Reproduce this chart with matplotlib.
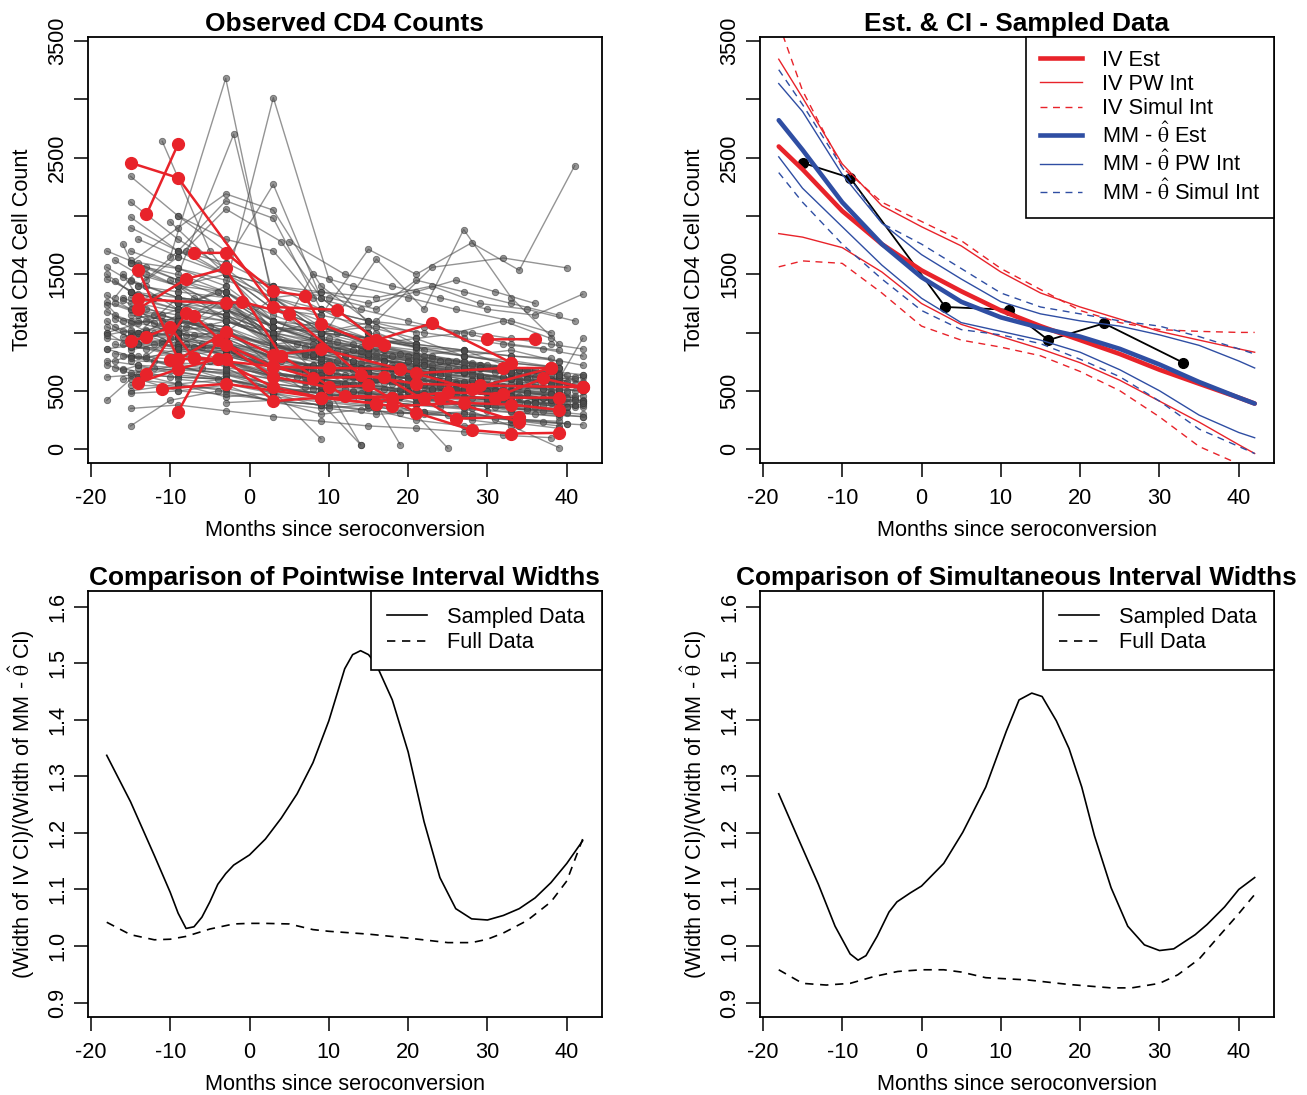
import matplotlib
matplotlib.use('Agg')
import matplotlib.pyplot as plt
from matplotlib.lines import Line2D

plt.rcParams['font.family'] = ['Liberation Sans', 'DejaVu Sans']
plt.rcParams['mathtext.fontset'] = 'stix'
plt.rcParams['axes.unicode_minus'] = False

############## Data ##############

# observed CD4 trajectories (months since seroconversion, cell count)
gray_months = [
    [-18, -13, -8, -3, 3, 10, 16, 22, 29, 35, 41],
    [-18, -14, -9, -3, 3, 8, 14, 19, 25],
    [-18, -15, -9, -3, 3, 8, 14, 20, 26, 32, 38],
    [-18, -13, -9, -3, 3, 9, 16, 22, 28, 34, 40],
    [-18, -15, -9, -3, 3, 11, 17, 23, 30, 36],
    [-18, -12, -6, -3, 3, 9, 15, 21, 27, 33, 39],
    [-18, -15, -9, -3, 3, 7, 13, 19, 24, 31, 37, 42],
    [-18, -14, -9, -3, 3, 10],
    [-18, -16, -10, -3, 3, 9, 15, 21, 28],
    [-18, -15, -9, -3, 3, 10, 16, 22, 28, 34, 40],
    [-17, -14, -9, -3, 3, 9, 15, 21, 27, 33, 39],
    [-17, -11, -5, 3, 12, 18, 24, 30, 36],
    [-17, -15, -9, -3, 3, 9, 15, 20, 26, 32, 38],
    [-17, -13, -9, -3, 3, 9, 15, 22, 28, 34, 40],
    [-16, -15, -9, -3, 3, 9, 15, 21, 27, 33, 39],
    [-16, -10, -3, 3, 8, 14, 20, 26, 32, 38],
    [-16, -12, -6, 3, 9, 15, 21, 27, 33, 39, 42],
    [-15, -9, -3, 3, 9, 15, 21, 27, 33, 39],
    [-15, -9, -3, 3, 9, 15, 21],
    [-15, -9, -3, 3, 11, 17, 23, 29, 35],
    [-15, -9, -3, 3, 9, 15, 21, 27, 33, 39],
    [-15, -9, -3, 3, 9, 14, 20, 26, 32, 38],
    [-15, -9, -3, 3, 10, 16, 22, 28, 34, 40],
    [-15, -9, -3, 3, 8, 13, 19, 25, 31, 37],
    [-15, -9, -3, 3, 9, 15, 21, 27, 33, 39],
    [-15, -9, -3, 3, 10, 17, 23, 29, 35, 41],
    [-15, -9, -3, 3, 9, 15, 21, 27, 33, 39, 42],
    [-15, -9, -3, 3, 7, 12, 18, 24, 30, 36],
    [-15, -9, -3, 3, 9, 15, 21, 27, 33, 39],
    [-15, -9, -3, 3, 10, 16, 22, 28, 34, 40],
    [-15, -10, -4, 3, 9],
    [-14, -9, -3, 3, 9, 15, 21, 27, 33, 39],
    [-14, -9, -3, 3, 11, 17, 23, 29, 35, 41],
    [-14, -8, -3, 3, 9, 15, 21, 27, 33, 39],
    [-14, -9, -3, 3, 8, 14, 20, 26, 32, 38],
    [-14, -9, -3, 3, 9, 15, 21, 27, 33, 39],
    [-13, -9, -3, 3, 10, 16, 22, 28, 34, 40],
    [-13, -7, -3, 3, 9, 15, 21, 27, 33],
    [-12, -9, -3, 3, 9, 15, 21, 27, 33, 39],
    [-11, -5, 3, 9, 14],
    [-10, -3, 3, 9, 15, 21],
    [-9, -3, 3, 10, 16, 22],
    [-9, -2, 3, 9, 15, 21, 27],
    [-9, -3, 3, 9, 15],
    [-15, -9, -3, 3, 9, 15, 21],
    [-14, -9, -3, 3, 9, 15],
    [-13, -9, -3, 4, 9, 15, 21],
    [-3, 3, 9, 16, 22, 27, 33, 39],
    [3, 9, 15, 21, 28, 34, 41],
    [-3, 3, 9, 16, 23, 32, 40],
    [-9, -3, 3, 9, 14],
    [3, 9, 15, 19],
    [9, 15, 21, 25],
    [21, 27, 33, 39],
    [-3, 3, 9],
    [-9, -3, 3, 8, 13, 20, 26, 33, 38],
    [-3, 3, 10, 16, 21, 27, 33, 39],
    [3, 9, 15, 21, 26, 31, 36],
    [5, 12, 18, 24, 30, 36, 42],
    [-9, -3, 3, 9, 15, 21, 27, 33, 39, 42],
    [-18, -14, -9, -3, 3, 9, 15, 21, 27, 33, 39],
    [-17, -15, -9, -3, 3, 9, 15],
    [-16, -14, -9, -4, 3, 9, 15, 21, 27],
    [-15, -9, -3, 3, 9, 15, 21, 27, 33, 39],
    [-14, -9, -3, 3, 9, 15, 21, 27, 33, 39, 42],
    [-15, -9, -3, 3, 8, 14, 20, 26, 32, 38],
    [-14, -9, -3, 3, 10, 16, 22, 28, 34, 40],
    [-9, -3, 3, 9, 15, 21, 27, 33, 39],
    [-15, -9, -3, 3, 11, 17, 23, 29, 35, 41],
    [-16, -9, -3, 3, 9, 15, 21, 27, 33, 39, 42],
    [-13, -9, -3, 3, 9, 15, 21, 27, 33],
    [-18, -14, -9, -3, 3, 9, 15, 21, 27, 33, 39],
    [-15, -9, -3, 3, 7, 13, 19, 25, 31, 37],
    [-9, -3, 3, 9, 15, 21, 27, 33, 39, 42],
    [-3, 3, 9, 15, 21, 27, 33, 39, 42],
    [-15, -9, -3, 3, 9, 15, 21, 27, 33, 38],
    [-14, -9, -3, 3, 9, 15, 21, 27, 33, 39],
    [-9, -3, 3, 8, 14, 20, 26, 32, 38],
    [-10, -3, 3, 9, 15, 21],
    [-8, -3, 3, 9, 16, 23, 29, 35, 41],
    [-14, -9, -3, 3, 9, 15, 21, 27, 33, 39],
    [-15, -9, -3, 3, 10, 16, 22, 28, 34],
    [-3, 3, 9, 15, 21, 27, 33, 39],
    [-12, -3, 3, 9, 15, 21, 27, 33, 39, 42],
    [-18, -13, -9, -3, 3, 9, 15, 21, 27, 33, 39],
    [-17, -14, -9, -3, 3, 9, 15, 21, 27],
    [-15, -9, -3, 3, 9, 15, 21, 27, 33, 39],
    [-14, -9, -3, 3, 8, 14, 20, 26, 32, 38],
    [-16, -9, -3, 3, 9, 15, 21, 27, 33, 39],
    [-18, -15, -9, -3, 3, 12, 18, 24, 30, 36, 42],
    [-17, -14, -9, -3, 3, 10, 17, 24, 31, 38],
    [-16, -13, -9, -3, 3, 11, 19, 27, 35, 42],
    [-18, -16, -12, -8, -3, 3, 9, 14, 20, 25, 31, 37, 42],
    [-17, -14, -10, -6, -2, 4, 10, 15, 21, 26, 32, 38],
    [-18, -15, -11, -7, -3, 3, 8, 13, 19, 25, 31, 37, 42],
    [-17, -13, -9, -5, -3, 3, 9, 15, 20, 26, 31, 36, 41],
    [-16, -14, -9, -4, -3, 3, 8, 14, 19, 24, 30, 35, 40],
    [-15, -14, -9, -3, 3, 7, 12, 17, 23, 28, 33, 38, 42],
    [-14, -12, -9, -3, 3, 9, 13, 18, 23, 29, 34, 39],
    [-16, -15, -9, -3, 3, 10, 14, 19, 24, 29, 34, 39, 42],
    [-18, -15, -9, -3, 3, 7, 11, 17, 23, 28, 33, 39],
    [-18, -14, -9, -3, 3, 6, 12, 17, 22, 27, 32, 37, 41],
    [-17, -15, -9, -3, 3, 9, 13, 19, 24, 30, 35, 40],
    [-15, -9, -3, 3, 8, 12, 18, 23, 28, 34, 40],
    [-14, -9, -3, 3, 8, 13, 18, 24, 29, 35, 41],
    [-15, -9, -3, 3, 7, 13, 19, 25, 30, 36, 41],
    [-14, -9, -3, 3, 9, 13, 18, 24, 30, 36, 42],
    [-15, -9, -3, 3, 9, 14, 19, 25, 31, 37, 42],
    [-13, -9, -3, 3, 6, 11, 17, 22, 28, 33, 38],
    [-12, -9, -3, 3, 9, 14, 19, 24, 29, 34, 39, 42],
    [-11, -9, -3, 3, 10, 15, 20, 25, 30, 35, 40],
    [-10, -3, 3, 8, 14, 19, 25, 30, 36, 42],
    [-9, -3, 3, 9, 13, 18, 23, 28, 33, 38, 42],
    [-8, -3, 3, 7, 12, 17, 22, 27, 32, 37, 41],
    [-7, -3, 3, 9, 14, 20, 25, 31, 36, 40],
    [-18, -16, -13, -9, -3, 3, 9, 15, 20, 26, 32],
    [-17, -15, -12, -9, -3, 3, 9, 15, 21, 27, 33, 39],
    [-16, -14, -11, -9, -3, 3, 8, 13, 18, 23, 29, 35, 41],
    [-3, 3, 8, 13, 18, 24, 29, 34, 39],
    [-3, 3, 7, 12, 18, 23, 28, 33, 38, 42],
    [3, 8, 12, 17, 22, 27, 32, 37, 42],
    [3, 9, 14, 20, 25, 30, 35, 40],
    [-15, -9, -3, 3, 9, 15, 22, 28, 33, 38, 42],
    [-14, -9, -3, 3, 9, 16, 22, 27, 32, 37, 42],
    [-15, -9, -3, 3, 9, 15, 21, 27, 32, 38],
    [-9, -3, 3, 9, 15, 21, 27, 33, 39],
    [-18, -15, -9, -3, 3, 9, 15, 21, 27, 33, 39, 42],
]
gray_cd4 = [
    [1700, 1560, 1480, 1350, 1050, 900, 820, 760, 700, 640, 600],
    [1460, 1330, 1250, 1150, 880, 800, 740, 690, 620],
    [1260, 1190, 1120, 1000, 780, 720, 660, 610, 560, 510, 470],
    [1180, 1010, 1150, 920, 720, 640, 590, 530, 490, 440, 400],
    [1050, 960, 910, 840, 690, 640, 570, 510, 470, 430],
    [950, 900, 880, 860, 660, 600, 530, 480, 430, 390, 350],
    [860, 800, 770, 750, 600, 530, 490, 450, 400, 360, 330, 300],
    [760, 720, 700, 640, 520, 470],
    [720, 690, 620, 600, 520, 480, 420, 380, 350],
    [420, 600, 560, 500, 410, 380, 330, 300, 280, 250, 220],
    [1620, 1500, 1400, 1220, 1050, 920, 860, 800, 720, 680, 640],
    [1250, 1100, 1060, 880, 780, 700, 650, 600, 560],
    [1050, 1000, 960, 900, 780, 700, 660, 610, 580, 540, 500],
    [900, 860, 800, 760, 620, 560, 520, 470, 440, 400, 360],
    [1760, 1620, 1450, 1350, 1150, 1000, 950, 880, 800, 740, 700],
    [1010, 950, 880, 700, 640, 600, 540, 500, 460, 420],
    [800, 760, 700, 600, 560, 520, 480, 440, 420, 380, 360],
    [2340, 2000, 1700, 1300, 1050, 900, 820, 760, 700, 650],
    [2120, 1800, 1550, 1250, 1100, 950, 880],
    [1990, 1700, 1500, 1200, 1000, 880, 800, 720, 680],
    [1700, 1550, 1400, 1100, 950, 850, 780, 700, 640, 600],
    [1600, 1450, 1300, 1050, 900, 820, 760, 680, 620, 580],
    [1440, 1300, 1250, 980, 860, 780, 720, 650, 600, 560],
    [1300, 1200, 1150, 900, 800, 720, 660, 600, 560, 520],
    [1150, 1100, 1050, 850, 760, 700, 640, 580, 520, 480],
    [1000, 980, 950, 780, 700, 640, 580, 540, 480, 440],
    [880, 860, 840, 700, 640, 580, 540, 500, 460, 420, 400],
    [760, 740, 720, 620, 580, 520, 480, 440, 400, 360],
    [640, 620, 600, 520, 480, 440, 400, 360, 320, 280],
    [550, 540, 520, 450, 400, 360, 320, 300, 260, 220],
    [200, 420, 500, 420, 380],
    [1800, 1650, 1500, 1200, 1050, 950, 870, 800, 740, 700],
    [1400, 1350, 1300, 1050, 920, 850, 780, 720, 660, 620],
    [1100, 1050, 1000, 820, 740, 680, 620, 560, 500, 460],
    [900, 880, 860, 720, 650, 590, 540, 500, 460, 420],
    [700, 680, 660, 560, 520, 480, 430, 400, 370, 340],
    [1500, 1400, 1350, 1100, 950, 880, 800, 740, 680, 640],
    [1000, 980, 950, 780, 700, 640, 600, 540, 500],
    [1300, 1250, 1200, 950, 850, 780, 720, 660, 600, 560],
    [2640, 1700, 1000, 620, 40],
    [1650, 3180, 1250, 900, 800, 700],
    [1200, 1400, 3015, 1460, 1000, 850],
    [1500, 2700, 1300, 1000, 850, 780, 700],
    [1350, 1600, 2270, 1300, 1000],
    [1600, 1900, 2190, 2050, 1400, 1100, 900],
    [1400, 1700, 2130, 1980, 1200, 1000],
    [1450, 1650, 2060, 1780, 1300, 1000, 900],
    [1300, 1100, 950, 1630, 1200, 1884, 1300, 900],
    [1200, 1150, 1714, 1500, 1770, 1535, 2432],
    [1200, 1050, 1000, 1100, 1560, 1640, 1555],
    [900, 800, 700, 400, 40],
    [800, 650, 500, 40],
    [600, 500, 300, 10],
    [500, 350, 200, 15],
    [700, 500, 90],
    [1100, 1050, 900, 1500, 1400, 1300, 1200, 1100, 1000],
    [1500, 1400, 1300, 1200, 1450, 1350, 1250, 1150],
    [1300, 1350, 1250, 1350, 1450, 1350, 1250],
    [1780, 1500, 1400, 1300, 1200, 1150, 1330],
    [1000, 1100, 950, 850, 780, 720, 650, 700, 600, 950],
    [620, 640, 560, 600, 480, 500, 420, 440, 380, 350, 300],
    [700, 650, 720, 600, 520, 450, 480],
    [1500, 1300, 1200, 1350, 900, 800, 850, 700, 650],
    [1250, 1400, 1100, 1000, 1100, 900, 850, 800, 850, 750],
    [1000, 1100, 900, 800, 850, 700, 720, 650, 600, 580, 620],
    [850, 950, 800, 750, 650, 700, 600, 550, 500, 540],
    [1200, 900, 1050, 700, 750, 600, 640, 520, 560, 480],
    [800, 850, 650, 600, 550, 500, 520, 450, 420],
    [1100, 1000, 1200, 900, 700, 760, 650, 600, 620, 500],
    [1300, 1100, 1300, 950, 900, 800, 700, 750, 650, 600, 640],
    [800, 1000, 900, 700, 640, 580, 620, 500, 480],
    [1100, 900, 950, 850, 700, 720, 600, 550, 580, 450, 420],
    [1450, 1200, 1150, 1000, 800, 900, 700, 650, 700, 600],
    [1300, 1150, 1000, 1050, 900, 800, 850, 700, 650, 560],
    [900, 700, 600, 650, 550, 500, 450, 480, 410],
    [1350, 1250, 1350, 1100, 1000, 950, 900, 850, 800, 780],
    [1000, 1300, 1250, 1200, 1000, 1050, 950, 1000, 900, 850],
    [2000, 1800, 1700, 1300, 1200, 1100, 1000, 1100, 950],
    [1950, 1500, 1300, 1200, 1100, 1000],
    [1700, 1500, 1400, 1350, 1300, 1400, 1250, 1200, 1100],
    [600, 500, 550, 400, 350, 380, 300, 320, 250, 200],
    [500, 560, 450, 480, 350, 300, 320, 250, 200],
    [400, 420, 300, 350, 250, 200, 230, 180],
    [700, 600, 500, 520, 420, 380, 400, 330, 300, 280],
    [1000, 1100, 1000, 1300, 900, 950, 800, 750, 700, 650, 600],
    [1300, 1550, 1400, 1500, 1100, 1050, 950, 900, 850],
    [900, 1100, 1000, 1300, 1000, 900, 950, 800, 760, 700],
    [800, 700, 750, 620, 560, 600, 480, 520, 430, 400],
    [600, 700, 650, 550, 450, 500, 400, 380, 350, 330],
    [1000, 880, 830, 900, 600, 560, 620, 480, 500, 420, 460],
    [1150, 1080, 1200, 1000, 760, 700, 680, 560, 520, 480],
    [960, 1020, 880, 760, 640, 560, 500, 440, 400, 380],
    [1240, 1100, 1150, 980, 1000, 820, 760, 700, 640, 600, 560, 520, 500],
    [1120, 1000, 1050, 900, 850, 760, 680, 660, 600, 560, 500, 470],
    [980, 1020, 930, 880, 900, 720, 680, 620, 580, 520, 500, 440, 420],
    [820, 780, 860, 760, 700, 640, 600, 560, 500, 470, 430, 400, 380],
    [680, 720, 640, 600, 640, 560, 520, 480, 450, 420, 380, 350, 320],
    [1350, 1250, 1180, 1100, 950, 880, 820, 760, 720, 680, 640, 600, 580],
    [1150, 1080, 1020, 960, 860, 800, 720, 700, 660, 620, 560, 540],
    [900, 960, 880, 820, 700, 660, 600, 560, 540, 500, 460, 430, 410],
    [1320, 1200, 1060, 980, 900, 820, 760, 700, 650, 590, 560, 500],
    [860, 900, 800, 760, 640, 620, 560, 520, 480, 460, 420, 380, 360],
    [760, 800, 700, 680, 600, 540, 500, 460, 420, 380, 340, 310],
    [1080, 1120, 980, 880, 800, 720, 680, 640, 590, 540, 500],
    [960, 1000, 920, 800, 720, 680, 620, 580, 540, 500, 460],
    [780, 820, 760, 660, 620, 560, 520, 480, 440, 400, 380],
    [620, 660, 600, 540, 480, 440, 400, 360, 330, 300, 280],
    [480, 500, 470, 420, 380, 340, 310, 290, 260, 230, 210],
    [1200, 1150, 1100, 1000, 900, 840, 800, 760, 720, 680, 640],
    [1000, 950, 900, 850, 780, 700, 660, 640, 620, 580, 520, 500],
    [900, 860, 820, 720, 660, 600, 560, 540, 500, 480, 440],
    [1450, 1200, 1050, 950, 880, 820, 760, 720, 680, 640],
    [1100, 1000, 900, 820, 760, 700, 680, 640, 600, 560, 540],
    [900, 860, 760, 700, 640, 600, 560, 520, 480, 440, 420],
    [1300, 1200, 1000, 900, 840, 760, 700, 660, 620, 580],
    [1560, 1480, 1400, 1300, 1200, 1000, 920, 860, 800, 760, 700],
    [1440, 1350, 1300, 1250, 1120, 950, 880, 820, 760, 700, 660, 620],
    [1280, 1200, 1150, 1100, 1000, 880, 820, 760, 720, 680, 640, 600, 560],
    [1100, 950, 900, 850, 800, 760, 700, 680, 640],
    [800, 700, 660, 620, 560, 520, 500, 460, 420, 400],
    [900, 860, 800, 760, 720, 660, 620, 580, 540],
    [650, 600, 560, 500, 470, 420, 400, 360],
    [1900, 1700, 1600, 1400, 1200, 1100, 1050, 1000, 950, 900, 860],
    [1600, 1550, 1450, 1300, 1150, 1050, 1000, 950, 900, 860, 800],
    [350, 380, 330, 280, 240, 200, 180, 150, 120, 100],
    [600, 560, 480, 420, 380, 340, 300, 260, 240],
    [1500, 1350, 1300, 1250, 1050, 1000, 950, 880, 840, 800, 760, 720],
]

# highlighted (sampled) subjects
red_months = [
    [-15, -9, 3, 11, 16, 23, 33],
    [-13, -9],
    [-7, -3, 3, 7, 9, 15, 17],
    [-14, -9, -3, 3, 9, 19, 28, 38],
    [-14, -3, -1, 5, 14, 21, 29, 42],
    [-14, -8, -3, 4, 12, 22, 31, 39],
    [-15, -13, -10, -7, 3, 8, 17, 26, 34],
    [-13, -8, -7, -3, 3, 10, 15, 21, 28, 33, 39],
    [-14, -9, -4, 3, 9, 18, 25, 32, 37, 42],
    [-11, -3, 9, 16, 18, 27, 33, 39],
    [-9, -4, 3, 10, 19, 21, 32, 38],
    [-10, -7, -3, 3, 9, 16, 18, 24, 34],
    [30, 36],
]
red_cd4 = [
    [2456, 2327, 1220, 1196, 936, 1080, 742],
    [2013, 2617],
    [1684, 1684, 1355, 1316, 1077, 912, 897],
    [1535, 772, 1002, 808, 861, 688, 517, 697],
    [1286, 1250, 1265, 1160, 637, 562, 547, 532],
    [1205, 1460, 1550, 802, 458, 443, 443, 443],
    [927, 966, 1047, 780, 712, 613, 622, 263, 278],
    [643, 1167, 1146, 891, 622, 532, 547, 314, 165, 135, 141],
    [571, 688, 775, 532, 443, 443, 488, 473, 607, 532],
    [517, 562, 443, 392, 368, 398, 383, 338],
    [323, 936, 706, 697, 688, 652, 697, 697],
    [766, 780, 775, 413, 443, 392, 443, 443, 233],
    [942, 945],
]

# single sampled subject shown with the fits
sample_months = [-15, -9, 3, 11, 16, 23, 33]
sample_cd4 = [2456, 2327, 1220, 1196, 936, 1080, 742]

# fitted curves and bands
fit_months = [-18, -15, -10, -5, 0, 5, 10, 15, 20, 25, 30, 35, 40, 42]
iv_est = [2596, 2400, 2043, 1759, 1534, 1355, 1190, 1056, 936, 817, 682, 562, 443, 392]
iv_pw_hi = [3344, 3015, 2447, 2088, 1908, 1744, 1520, 1340, 1220, 1116, 1011, 936, 861, 832]
iv_pw_lo = [1849, 1819, 1729, 1520, 1250, 1071, 966, 861, 742, 592, 413, 233, 39, -36]
iv_sim_hi = [3650, 3075, 2417, 2118, 1953, 1789, 1550, 1370, 1190, 1086, 1026, 1011, 1002, 1002]
iv_sim_lo = [1564, 1615, 1594, 1340, 1056, 936, 876, 802, 667, 502, 278, 24, -126, -250]
mm_est = [2821, 2567, 2118, 1759, 1475, 1265, 1131, 1041, 966, 861, 727, 577, 443, 392]
mm_pw_hi = [3135, 2896, 2357, 1938, 1669, 1460, 1265, 1161, 1101, 1056, 981, 891, 757, 697]
mm_pw_lo = [2507, 2238, 1908, 1579, 1295, 1086, 1011, 936, 832, 682, 502, 293, 144, 99]
mm_sim_hi = [3254, 2955, 2417, 1938, 1759, 1550, 1340, 1220, 1161, 1101, 1056, 966, 861, 817]
mm_sim_lo = [2372, 2118, 1759, 1460, 1190, 1026, 981, 906, 772, 622, 413, 173, 24, -36]

# width ratios, pointwise
pw_sampled_months = [-18, -15, -12, -10, -9, -8, -7, -6, -5, -4, -3, -2, 0, 2, 4, 6, 8, 10,
                     12, 13, 14, 15, 16, 18, 20, 22, 24, 26, 28, 30, 32, 34, 36, 38, 40, 42]
pw_sampled = [1.337, 1.255, 1.16, 1.095, 1.058, 1.031, 1.034, 1.051, 1.078, 1.109, 1.128, 1.143,
              1.161, 1.189, 1.226, 1.269, 1.324, 1.398, 1.490, 1.515, 1.522, 1.515, 1.497, 1.435,
              1.343, 1.220, 1.121, 1.066, 1.048, 1.046, 1.054, 1.066, 1.085, 1.112, 1.146, 1.186]
pw_full_months = [-18, -15, -12, -10, -8, -5, -2, 0, 2, 5, 8, 10, 15, 20, 25, 28, 30, 32, 35, 38, 40, 42]
pw_full = [1.042, 1.020, 1.011, 1.012, 1.017, 1.030, 1.039, 1.040, 1.040, 1.039, 1.029, 1.026,
           1.021, 1.014, 1.006, 1.006, 1.012, 1.023, 1.045, 1.078, 1.115, 1.189]

# width ratios, simultaneous
sim_sampled_months = [-18, -15.7, -13, -10.9, -9, -8, -7, -5.6, -4.1, -3.1, -1.4, 0, 2.8, 5.2, 8.1,
                      10.7, 12.3, 13.9, 15.2, 17, 18.6, 20.2, 21.8, 23.9, 26, 28.1, 30, 31.8, 34.5,
                      36, 38.2, 40, 42]
sim_sampled = [1.269, 1.195, 1.109, 1.035, 0.986, 0.975, 0.983, 1.017, 1.060, 1.078, 1.094, 1.106,
               1.146, 1.201, 1.281, 1.380, 1.435, 1.447, 1.441, 1.398, 1.349, 1.281, 1.195, 1.103,
               1.035, 1.002, 0.992, 0.995, 1.020, 1.038, 1.069, 1.100, 1.121]
sim_full_months = [-18, -15, -12, -9, -6, -3, 0, 2.8, 5, 8.1, 13.4, 18.6, 23.9, 26.5, 30, 32.3, 35,
                   37.1, 39.8, 42]
sim_full = [0.958, 0.934, 0.931, 0.934, 0.946, 0.955, 0.958, 0.958, 0.954, 0.944, 0.940, 0.932,
            0.926, 0.926, 0.934, 0.949, 0.977, 1.011, 1.054, 1.091]

############## Style ##############

W, H = 1307, 1095
FS = 15.7
RED = '#e8232a'
BLUE = '#2f4ea3'
dash = (0, (5, 4))
hat = r'$\hat{\mathrm{\theta}}$'


def make_axes(fig, left, top, width=514, height=426.6):
    ax = fig.add_axes([left / W, 1 - (top + height) / H, width / W, height / H])
    for sp in ax.spines.values():
        sp.set_linewidth(1.3)
    ax.tick_params(direction='out', length=10, width=1.1, labelsize=FS,
                   top=False, right=False)
    ax.tick_params(axis='x', pad=8)
    ax.tick_params(axis='y', labelrotation=90, pad=4)
    ax.set_xlim(-20.4, 44.4)
    ax.set_xticks([-20, -10, 0, 10, 20, 30, 40])
    ax.set_xlabel('Months since seroconversion', fontsize=FS)
    ax.xaxis.set_label_coords(0.5, -0.132)
    return ax


def cd4_axis(ax, title):
    ax.set_ylim(-120, 3537)
    ax.set_yticks(range(0, 3501, 500))
    ax.set_yticklabels(['0', '500', '', '1500', '', '2500', '', '3500'], va='center')
    ax.set_ylabel('Total CD4 Cell Count', fontsize=FS)
    ax.yaxis.set_label_coords(-0.106, 0.5)
    ax.set_title(title, fontsize=18.9, fontweight='bold', pad=4)


def ratio_axis(ax, title):
    ax.set_ylim(0.874, 1.628)
    ax.set_yticks([0.9, 1.0, 1.1, 1.2, 1.3, 1.4, 1.5, 1.6])
    ax.set_yticklabels(['0.9', '1.0', '1.1', '1.2', '1.3', '1.4', '1.5', '1.6'], va='center')
    ax.set_ylabel('(Width of IV CI)/(Width of MM - ' + hat + ' CI)', fontsize=FS)
    ax.yaxis.set_label_coords(-0.099, 0.5)
    ax.set_title(title, fontsize=18.9, fontweight='bold', pad=4)


fig = plt.figure(figsize=(W / 100, H / 100), dpi=100)

############## Observed counts ##############

ax1 = make_axes(fig, 87.7, 36.7)
cd4_axis(ax1, 'Observed CD4 Counts')
for m, c in zip(gray_months, gray_cd4):
    ax1.plot(m, c, color='#4d4d4d', alpha=0.6, lw=1.0, marker='o', ms=4.6,
             mec='#333333', mew=0.6)
for m, c in zip(red_months, red_cd4):
    ax1.plot(m, c, color=RED, lw=1.8, marker='o', ms=8.5, mec=RED)

############## Estimates ##############

ax2 = make_axes(fig, 759.7, 36.7)
cd4_axis(ax2, 'Est. & CI - Sampled Data')
ax2.plot(sample_months, sample_cd4, color='black', lw=1.3, marker='o', ms=7)
ax2.plot(fit_months, iv_pw_hi, color=RED, lw=1.0)
ax2.plot(fit_months, iv_pw_lo, color=RED, lw=1.0)
ax2.plot(fit_months, iv_sim_hi, color=RED, lw=1.0, ls=dash)
ax2.plot(fit_months, iv_sim_lo, color=RED, lw=1.0, ls=dash)
ax2.plot(fit_months, mm_pw_hi, color=BLUE, lw=1.0)
ax2.plot(fit_months, mm_pw_lo, color=BLUE, lw=1.0)
ax2.plot(fit_months, mm_sim_hi, color=BLUE, lw=1.0, ls=dash)
ax2.plot(fit_months, mm_sim_lo, color=BLUE, lw=1.0, ls=dash)
ax2.plot(fit_months, iv_est, color=RED, lw=3.3, solid_capstyle='round')
ax2.plot(fit_months, mm_est, color=BLUE, lw=3.3, solid_capstyle='round')

handles = [
    Line2D([], [], color=RED, lw=3.3),
    Line2D([], [], color=RED, lw=1.0),
    Line2D([], [], color=RED, lw=1.0, ls=dash),
    Line2D([], [], color=BLUE, lw=3.3),
    Line2D([], [], color=BLUE, lw=1.0),
    Line2D([], [], color=BLUE, lw=1.0, ls=dash),
]
labels = ['IV Est', 'IV PW Int', 'IV Simul Int', 'MM - ' + hat + ' Est',
          'MM - ' + hat + ' PW Int', 'MM - ' + hat + ' Simul Int']
leg = ax2.legend(handles, labels, loc='upper right', borderaxespad=0, fontsize=FS,
                 frameon=True, fancybox=False, framealpha=1, edgecolor='black',
                 handlelength=1.95, handletextpad=0.9, labelspacing=0.15,
                 borderpad=0.6)
leg.get_frame().set_linewidth(1.2)

############## Interval widths ##############

ax3 = make_axes(fig, 87.7, 590.7)
ratio_axis(ax3, 'Comparison of Pointwise Interval Widths')
ax3.plot(pw_sampled_months, pw_sampled, color='black', lw=1.2)
ax3.plot(pw_full_months, pw_full, color='black', lw=1.2, ls=dash)

ax4 = make_axes(fig, 759.7, 590.7)
ratio_axis(ax4, 'Comparison of Simultaneous Interval Widths')
ax4.plot(sim_sampled_months, sim_sampled, color='black', lw=1.2)
ax4.plot(sim_full_months, sim_full, color='black', lw=1.2, ls=dash)

for ax in (ax3, ax4):
    lg = ax.legend([Line2D([], [], color='black', lw=1.2),
                    Line2D([], [], color='black', lw=1.2, ls=dash)],
                   ['Sampled Data', 'Full Data'], loc='upper right', borderaxespad=0,
                   fontsize=FS, frameon=True, fancybox=False, framealpha=1,
                   edgecolor='black', handlelength=1.85, handletextpad=0.92,
                   labelspacing=0.2, borderpad=0.75)
    lg.get_frame().set_linewidth(1.2)

plt.savefig('out.png', dpi=100)
